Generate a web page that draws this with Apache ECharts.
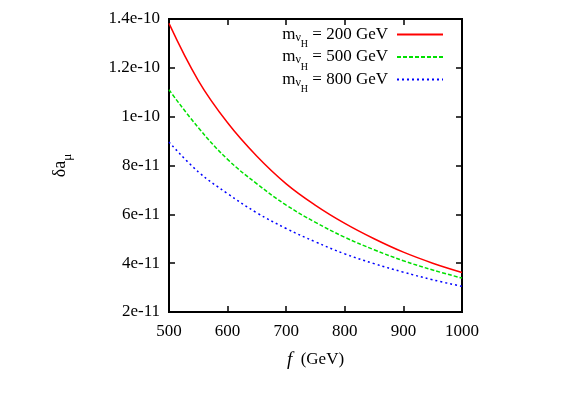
<!DOCTYPE html>
<html>
<head>
<meta charset="utf-8">
<script src="https://cdn.jsdelivr.net/npm/echarts@6/dist/echarts.min.js"></script>
<style>
html, body { margin: 0; padding: 0; background: #fff; }
#chart { width: 566px; height: 395px; }
</style>
</head>
<body>
<div id="chart"></div>
<script>
// f (GeV) sample points and delta a_mu
var fValues = [500, 550, 600, 650, 700, 750, 800, 850, 900, 950, 1000];
var mass200 = [1.382e-10, 1.148e-10, 9.75e-11, 8.38e-11, 7.25e-11, 6.37e-11, 5.63e-11, 5.00e-11, 4.45e-11, 4.00e-11, 3.62e-11];
var mass500 = [1.110e-10, 9.55e-11, 8.25e-11, 7.25e-11, 6.38e-11, 5.67e-11, 5.06e-11, 4.55e-11, 4.10e-11, 3.72e-11, 3.39e-11];
var mass800 = [8.96e-11, 7.74e-11, 6.85e-11, 6.06e-11, 5.42e-11, 4.87e-11, 4.38e-11, 3.98e-11, 3.63e-11, 3.32e-11, 3.05e-11];
var massNames = ['200 GeV', '500 GeV', '800 GeV'];

var serif = 'Liberation Serif';
var chart = echarts.init(document.getElementById('chart'));

function pairs(ys) {
    var out = [];
    for (var i = 0; i < fValues.length; i++) {
        out.push([fValues[i], ys[i]]);
    }
    return out;
}

// gnuplot style labels: 1.4e-10, 1e-10, 8e-11 ...
function expLabel(v) {
    var e = Math.floor(Math.log10(v) + 1e-9);
    var m = Math.round(v / Math.pow(10, e) * 10) / 10;
    return m + 'e' + e;
}

var black = { color: '#000', width: 2 };
var tick = { inside: true, length: 6, lineStyle: { color: '#000', width: 1.5 } };

var option = {
    animation: false,
    backgroundColor: '#fff',
    grid: { left: 169, right: 104, top: 19, bottom: 83, show: true, borderColor: '#000', borderWidth: 2 },
    legend: {
        orient: 'vertical',
        right: 117,
        top: 21,
        align: 'right',
        itemWidth: 46,
        itemHeight: 10,
        itemGap: -1,
        data: massNames,
        itemStyle: { opacity: 0, color: 'transparent', borderWidth: 0 },
        formatter: function (name) {
            return '{m|m}{n|ν}{h|H}{t| = ' + name + '}';
        },
        textStyle: {
            fontFamily: serif, fontSize: 17, color: '#000',
            rich: {
                m: { fontFamily: serif, fontSize: 17, lineHeight: 30, verticalAlign: 'middle' },
                n: { fontFamily: serif, fontSize: 12, lineHeight: 12, verticalAlign: 'bottom', padding: [0, 0, 6, 0] },
                h: { fontFamily: serif, fontSize: 10, lineHeight: 10, verticalAlign: 'bottom' },
                t: { fontFamily: serif, fontSize: 17, lineHeight: 30, verticalAlign: 'middle', padding: [0, 4, 0, 0] }
            }
        }
    },
    xAxis: [{
        type: 'value', min: 500, max: 1000, interval: 100, position: 'bottom',
        axisLine: { show: true, lineStyle: black },
        axisTick: tick,
        splitLine: { show: false },
        axisLabel: {
            margin: 11, fontFamily: serif, fontSize: 17, color: '#000',
            formatter: function (v) { return String(v); }
        },
        name: '{i|f}  (GeV)',
        nameLocation: 'middle',
        nameGap: 38,
        nameTextStyle: {
            fontFamily: serif, fontSize: 17, color: '#000',
            rich: {
                i: { fontFamily: serif, fontSize: 19, fontStyle: 'italic', color: '#000' }
            }
        }
    }, {
        type: 'value', min: 500, max: 1000, interval: 100, position: 'top',
        axisLine: { show: true, lineStyle: black },
        axisTick: tick,
        splitLine: { show: false },
        axisLabel: { show: false }
    }],
    yAxis: [{
        type: 'value', min: 2e-11, max: 1.4e-10, interval: 2e-11, position: 'left',
        axisLine: { show: true, lineStyle: black },
        axisTick: tick,
        splitLine: { show: false },
        axisLabel: { margin: 9, fontFamily: serif, fontSize: 17, color: '#000', formatter: expLabel },
        name: '{d|δa}{u|μ}',
        nameLocation: 'middle',
        nameRotate: 90,
        nameGap: 95,
        nameTextStyle: {
            fontFamily: serif, fontSize: 17, color: '#000',
            rich: {
                d: { fontFamily: serif, fontSize: 18, lineHeight: 28, verticalAlign: 'middle' },
                u: { fontFamily: serif, fontSize: 13, lineHeight: 13, verticalAlign: 'bottom' }
            }
        }
    }, {
        type: 'value', min: 2e-11, max: 1.4e-10, interval: 2e-11, position: 'right',
        axisLine: { show: true, lineStyle: black },
        axisTick: tick,
        splitLine: { show: false },
        axisLabel: { show: false }
    }],
    series: [{
        name: massNames[0], type: 'line', symbol: 'none', smooth: 0.4,
        lineStyle: { color: '#ff0000', width: 1.5, type: 'solid' },
        itemStyle: { color: '#ff0000' },
        data: pairs(mass200)
    }, {
        name: massNames[1], type: 'line', symbol: 'none', smooth: 0.4,
        lineStyle: { color: '#00e000', width: 1.5, type: [4, 2] },
        itemStyle: { color: '#00e000' },
        data: pairs(mass500)
    }, {
        name: massNames[2], type: 'line', symbol: 'none', smooth: 0.4,
        lineStyle: { color: '#0000ff', width: 1.5, type: [2, 3] },
        itemStyle: { color: '#0000ff' },
        data: pairs(mass800)
    }]
};

chart.setOption(option);
</script>
</body>
</html>
